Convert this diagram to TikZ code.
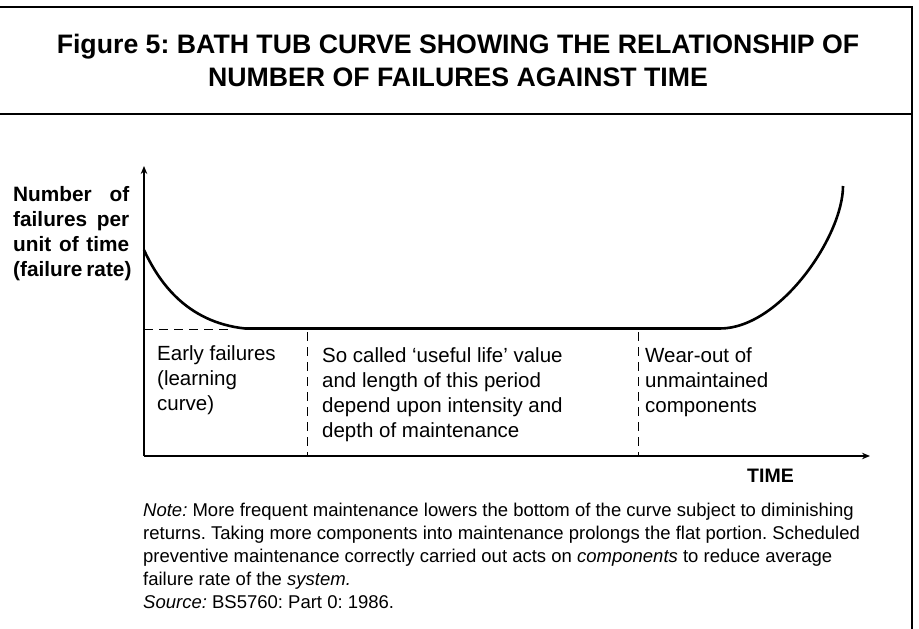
\documentclass[tikz,border=0pt]{standalone}
\usepackage{fontspec}
\setmainfont{Liberation Sans}
\usetikzlibrary{arrows.meta}
\begin{document}
\frenchspacing
\begin{tikzpicture}[x=1pt,y=-1pt,
  frameline/.style={line width=1.3pt, black},
  axisline/.style={line width=1.8pt, -{Stealth[length=8pt,width=6.5pt]}},
  curveline/.style={line width=2.6pt, line join=round},
  guide/.style={line width=0.9pt, dash pattern=on 9pt off 6pt},
  txt/.style={inner sep=0pt, anchor=base west},
  titletxt/.style={inner sep=0pt, anchor=base, font=\fontsize{26.7}{33}\selectfont\bfseries}
]
\useasboundingbox (0,0) rectangle (919,629);
% frame
\coordinate (tl) at (0,7);
\coordinate (tr) at (912,7);
\coordinate (ml) at (0,114);
\coordinate (mr) at (912,114);
\coordinate (br) at (912,629);
\draw[frameline] (tl) -- (tr) -- (br);
\draw[frameline] (ml) -- (mr);
% title
\node[titletxt] (title1) at (458,53) {Figure 5: BATH TUB CURVE SHOWING THE RELATIONSHIP OF};
\node[titletxt] (title2) at (458,86) {NUMBER OF FAILURES AGAINST TIME};
% axes
\coordinate (O) at (144,456);
\coordinate (ytop) at (144,166);
\coordinate (xend) at (870,456);
\draw[axisline] (O) -- (ytop);
\draw[axisline] (O) -- (xend);
% guides
\coordinate (hd1) at (144,329);
\coordinate (hd2) at (228,329);
\draw[guide] (hd1) -- (hd2);
\coordinate (v1t) at (307,332);
\coordinate (v1b) at (307,456);
\coordinate (v2t) at (638,332);
\coordinate (v2b) at (638,456);
\draw[guide] (v1t) -- (v1b);
\draw[guide] (v2t) -- (v2b);
% bathtub curve
\coordinate (c0) at (144,250);
\coordinate (c1) at (245,328.5);
\coordinate (c2) at (720,328.5);
\coordinate (c3) at (843,186);
\draw[curveline] (c0) .. controls (158,280) and (185,322) .. (c1) -- (c2) .. controls (780,328.5) and (843,236) .. (c3);
% y label
\node[txt] (ylab) at (13,201) {\parbox[t]{116pt}{\fontsize{20.8}{25}\selectfont\bfseries
\makebox[116pt][s]{Number of}\\
\makebox[116pt][s]{failures per}\\
\makebox[116pt][s]{unit of time}\\
\makebox[116pt][s]{(failure rate)}}};
% region texts
\node[txt] (early) at (157,360) {\parbox[t]{140pt}{\raggedright\fontsize{20.5}{25}\selectfont Early failures\\(learning\\curve)}};
\node[txt] (useful) at (322,362) {\parbox[t]{300pt}{\raggedright\fontsize{20.5}{25}\selectfont So called `useful life' value\\and length of this period\\depend upon intensity and\\depth of maintenance}};
\node[txt] (wear) at (645,362) {\parbox[t]{200pt}{\raggedright\fontsize{20.5}{25}\selectfont Wear-out of\\unmaintained\\components}};
% x label
\node[txt, font=\fontsize{19.5}{23}\selectfont\bfseries] (time) at (747,482) {TIME};
% note
\node[txt] (note) at (143,516) {\parbox[t]{770pt}{\raggedright\fontsize{18.5}{23}\selectfont
\textit{Note:} More frequent maintenance lowers the bottom of the curve subject to diminishing\\
returns. Taking more components into maintenance prolongs the flat portion. Scheduled\\
preventive maintenance correctly carried out acts on \textit{components} to reduce average\\
failure rate of the \textit{system.}\\
\textit{Source:} BS5760: Part 0: 1986.}};
\end{tikzpicture}
\end{document}
